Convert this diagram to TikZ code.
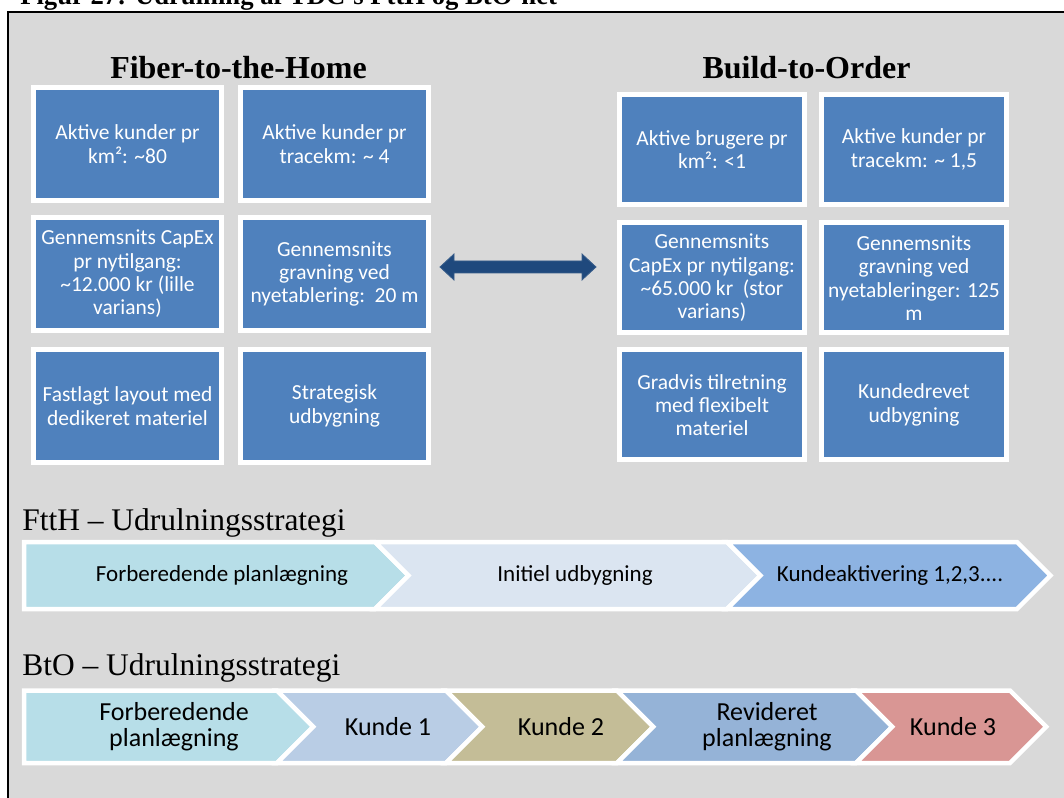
\documentclass[tikz,border=0pt]{standalone}
\usepackage{fontspec}
\setmainfont{Liberation Serif}
\newfontfamily\calfont{Carlito}
\newcommand\cardtxt{\calfont\fontsize{16.1pt}{17.5pt}\selectfont}
\newcommand\fttxt{\calfont\fontsize{17.25pt}{19pt}\selectfont}
\newcommand\bttxt{\calfont\fontsize{19.5pt}{19.5pt}\selectfont}
\definecolor{panelgray}{HTML}{D9D9D9}
\definecolor{cardblue}{HTML}{4F81BD}
\definecolor{arrowblue}{HTML}{1F497D}
\definecolor{arrowedge}{HTML}{385D8A}
\definecolor{cyanseg}{HTML}{B7DEE8}
\definecolor{paleseg}{HTML}{DBE5F1}
\definecolor{midseg}{HTML}{8DB3E2}
\definecolor{lavseg}{HTML}{B9CDE5}
\definecolor{khakiseg}{HTML}{C4BD97}
\definecolor{steelseg}{HTML}{95B3D7}
\definecolor{roseseg}{HTML}{D99694}
\begin{document}
\begin{tikzpicture}[x=0.75pt,y=-0.75pt,
  card/.style={draw=white, line width=3.75pt, fill=cardblue, text=white,
    align=center, font=\cardtxt, inner sep=0pt},
  cardL/.style={card, minimum width=141pt, minimum height=84.75pt},
  cardR/.style={card, minimum width=138.75pt, minimum height=82.5pt},
  chev/.style={draw=white, line width=3.375pt, line join=miter},
  ftlabel/.style={font=\fttxt, text=black, align=center, inner sep=0pt},
  btlabel/.style={font=\bttxt, text=black, align=center, inner sep=0pt},
  heading/.style={font=\fontsize{24pt}{28pt}\selectfont\bfseries, inner sep=0pt, anchor=base},
  stratlabel/.style={font=\fontsize{23.6pt}{27pt}\selectfont, inner sep=0pt, anchor=base west}]
\useasboundingbox (0,0) rectangle (1064,798);
\clip (0,0) rectangle (1064,798);

% caption above the panel
\node[font=\fontsize{20pt}{24pt}\selectfont\bfseries, inner sep=0pt, anchor=base west]
  (caption) at (20,5) {Figur 27: Udrulning af TDC's FttH og BtO-net};

% framed gray panel
\fill[panelgray] (8,12) rectangle (1080,810);
\draw[black, line width=1.875pt] (8,810) -- (8,12) -- (1080,12);

% column headings
\node[heading] (ftthhead) at (238.5,79) {Fiber-to-the-Home};
\node[heading] (btohead) at (806.5,79) {Build-to-Order};

% Fiber-to-the-Home cards
\node[cardL] (f11) at (127.5,144) {Aktive kunder pr\\km²: \textasciitilde 80};
\node[cardL] (f12) at (334.5,144) {Aktive kunder pr\\tracekm: \textasciitilde\ 4};
\node[cardL] (f21) at (127.5,274) {Gennemsnits CapEx\\pr nytilgang:\\\textasciitilde 12.000 kr (lille\\varians)};
\node[cardL] (f22) at (334.5,274) {Gennemsnits\\gravning ved\\nyetablering:\ \ 20 m};
\node[cardL] (f31) at (127.5,406) {Fastlagt layout med\\dedikeret materiel};
\node[cardL] (f32) at (334.5,406) {Strategisk\\udbygning};

% Build-to-Order cards
\node[cardR] (b11) at (712,149.5) {Aktive brugere pr\\km²: <1};
\node[cardR] (b12) at (914,149.5) {Aktive kunder pr\\tracekm: \textasciitilde\ 1,5};
\node[cardR] (b21) at (712,278) {Gennemsnits\\CapEx pr nytilgang:\\\textasciitilde 65.000 kr\ \ (stor\\varians)};
\node[cardR] (b22) at (914,278) {Gennemsnits\\gravning ved\\nyetableringer: 125\\m};
\node[cardR] (b31) at (712,405) {Gradvis tilretning\\med flexibelt\\materiel};
\node[cardR] (b32) at (914,405) {Kundedrevet\\udbygning};

% two-headed comparison arrow
\coordinate (al) at (440,267);
\coordinate (ar) at (596,267);
\fill[arrowblue, draw=arrowedge, line width=0.6pt]
  (al) -- ++(14,-13) -- ++(0,7) -- ++(128,0) -- ++(0,-7) -- (ar)
  -- ++(-14,13) -- ++(0,-7) -- ++(-128,0) -- ++(0,7) -- cycle;

% FttH roll-out strategy
\node[stratlabel] (ftthstrat) at (22,530) {FttH -- Udrulningsstrategi};
\filldraw[chev, fill=cyanseg]
  (24,542) -- (375,542) -- (408.5,575.5) -- (375,609) -- (24,609) -- cycle;
\filldraw[chev, fill=paleseg]
  (375,542) -- (727,542) -- (760.5,575.5) -- (727,609) -- (375,609) -- (408.5,575.5) -- cycle;
\filldraw[chev, fill=midseg]
  (727,542) -- (1017,542) -- (1050.5,575.5) -- (1017,609) -- (727,609) -- (760.5,575.5) -- cycle;
\node[ftlabel] (fs1) at (222,575.5) {Forberedende planlægning};
\node[ftlabel] (fs2) at (575,575.5) {Initiel udbygning};
\node[ftlabel] (fs3) at (890,575.5) {Kundeaktivering 1,2,3....};

% BtO roll-out strategy
\node[stratlabel] (btostrat) at (22,675) {BtO -- Udrulningsstrategi};
\filldraw[chev, fill=cyanseg]
  (24,690.5) -- (277,690.5) -- (313.25,726.75) -- (277,763) -- (24,763) -- cycle;
\filldraw[chev, fill=lavseg]
  (277,690.5) -- (446,690.5) -- (482.25,726.75) -- (446,763) -- (277,763) -- (313.25,726.75) -- cycle;
\filldraw[chev, fill=khakiseg]
  (446,690.5) -- (617,690.5) -- (653.25,726.75) -- (617,763) -- (446,763) -- (482.25,726.75) -- cycle;
\filldraw[chev, fill=steelseg]
  (617,690.5) -- (856,690.5) -- (892.25,726.75) -- (856,763) -- (617,763) -- (653.25,726.75) -- cycle;
\filldraw[chev, fill=roseseg]
  (856,690.5) -- (1010,690.5) -- (1046.25,726.75) -- (1010,763) -- (856,763) -- (892.25,726.75) -- cycle;
\node[btlabel] (bs1) at (174,727) {Forberedende\\planlægning};
\node[btlabel] (bs2) at (388,727) {Kunde 1};
\node[btlabel] (bs3) at (561,727) {Kunde 2};
\node[btlabel] (bs4) at (767,727) {Revideret\\planlægning};
\node[btlabel] (bs5) at (953,727) {Kunde 3};
\end{tikzpicture}
\end{document}
